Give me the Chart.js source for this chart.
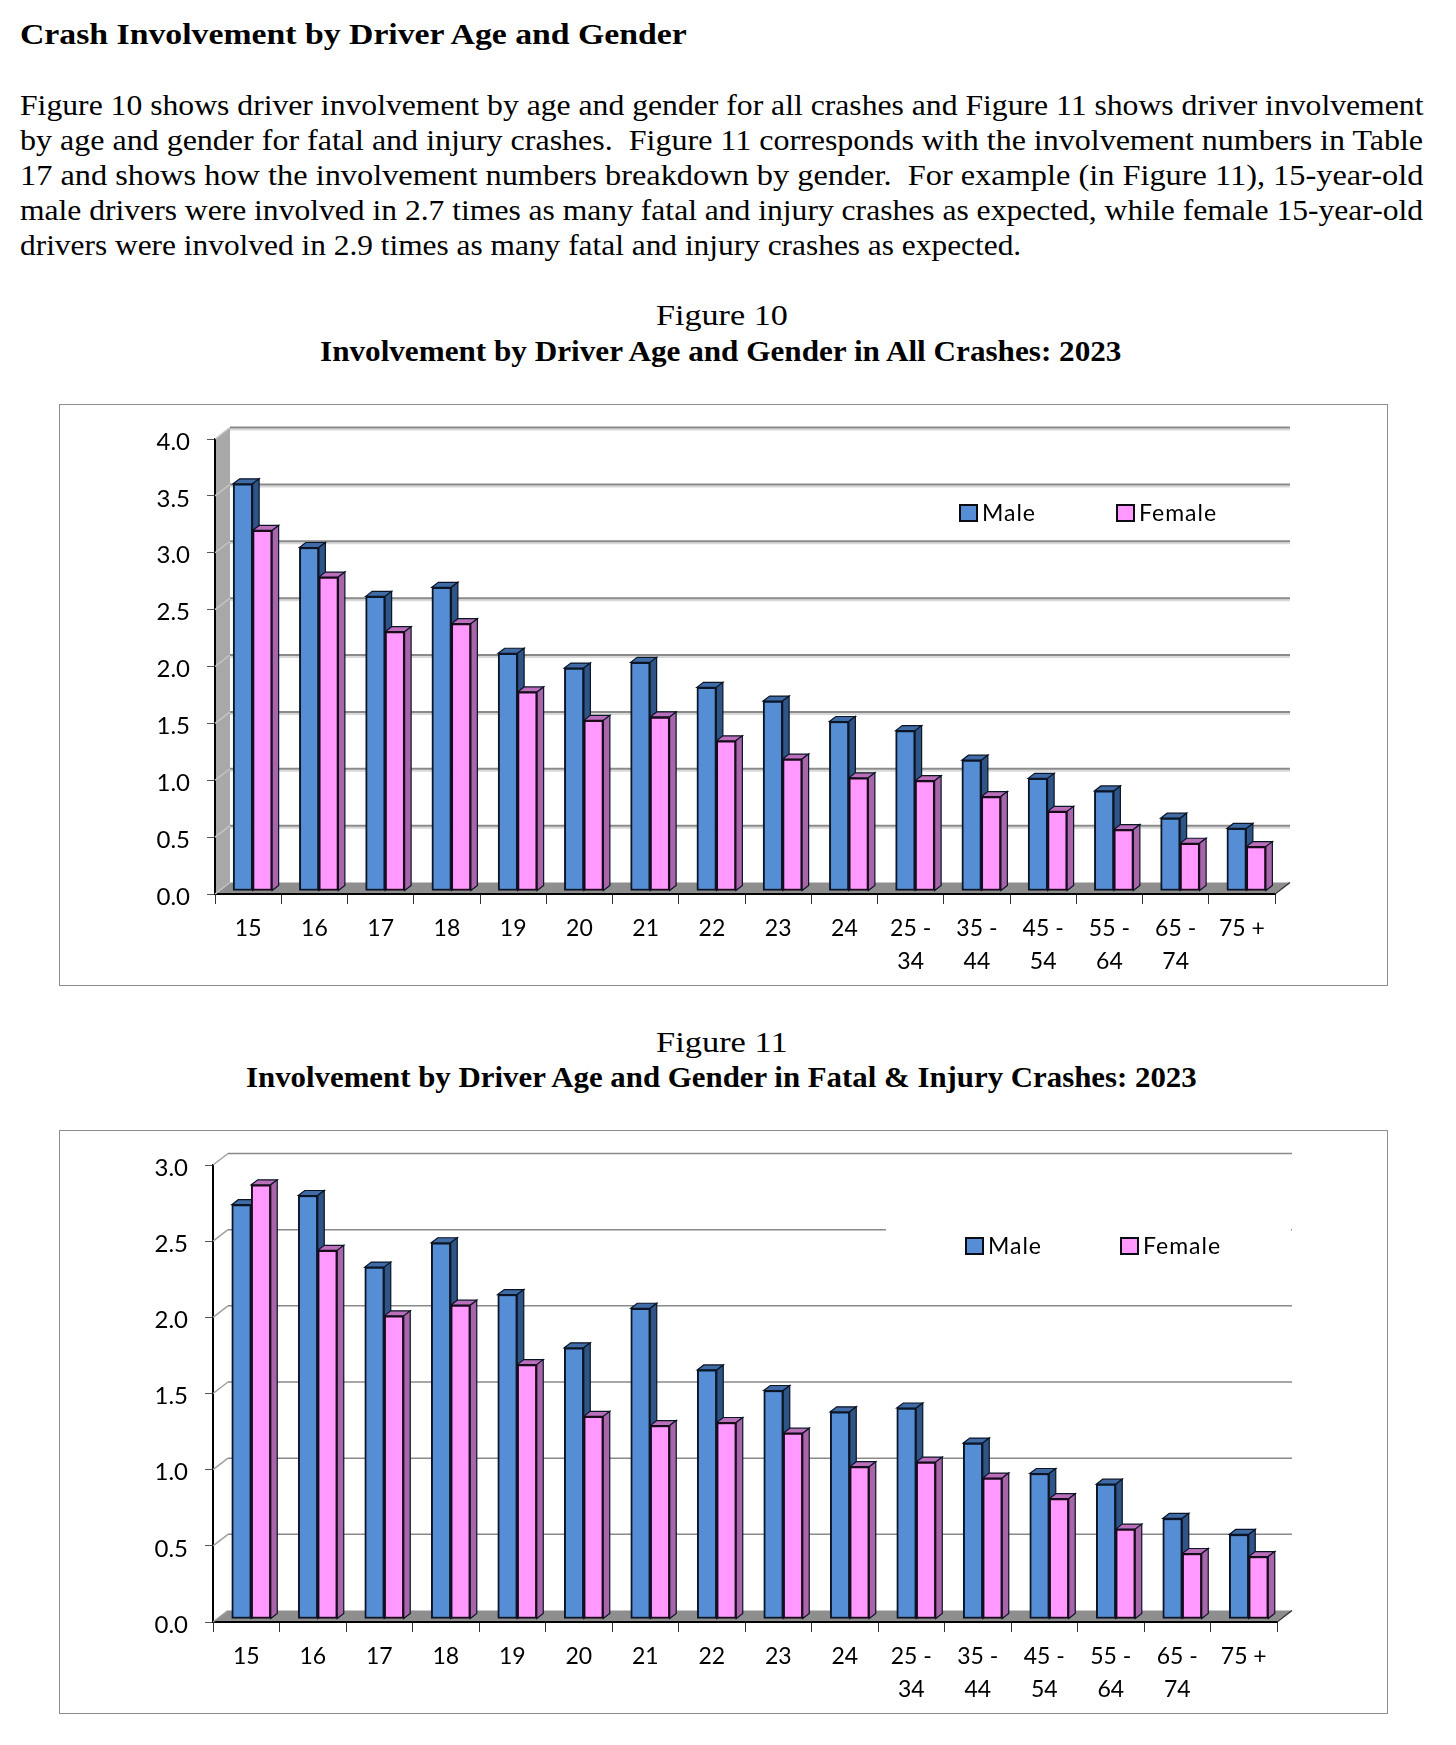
<!DOCTYPE html>
<html>
<head>
<meta charset="utf-8">
<title>Crash Involvement by Driver Age and Gender</title>
<script src="https://cdn.jsdelivr.net/npm/chart.js@4/dist/chart.umd.min.js"></script>
<style>
html, body { margin: 0; padding: 0; background: #fff; }
body { position: relative; width: 1456px; height: 1745px; overflow: hidden; }
.t { position: absolute; font-family: "Liberation Serif", serif; font-size: 30px; line-height: 34px;
     color: #000; white-space: nowrap; transform-origin: left center; }
.t.b { font-weight: bold; }
canvas { position: absolute; left: 60px; outline: 1.5px solid #8c8c8c; background: #fff; }
</style>
</head>
<body>
<div class="t b" data-x="20" data-w="667" style="top:17px">Crash Involvement by Driver Age and Gender</div>
<div class="t" data-x="20" data-w="1403" style="top:88px">Figure 10 shows driver involvement by age and gender for all crashes and Figure 11 shows driver involvement</div>
<div class="t" data-x="20" data-w="1403" style="top:123px">by age and gender for fatal and injury crashes.&nbsp; Figure 11 corresponds with the involvement numbers in Table</div>
<div class="t" data-x="20" data-w="1403" style="top:158px">17 and shows how the involvement numbers breakdown by gender.&nbsp; For example (in Figure 11), 15-year-old</div>
<div class="t" data-x="20" data-w="1403" style="top:193px">male drivers were involved in 2.7 times as many fatal and injury crashes as expected, while female 15-year-old</div>
<div class="t" data-x="20" data-w="1001" style="top:228px">drivers were involved in 2.9 times as many fatal and injury crashes as expected.</div>
<div class="t" data-x="656" data-w="132" style="top:298px">Figure 10</div>
<div class="t b" data-x="320" data-w="801" style="top:334px">Involvement by Driver Age and Gender in All Crashes: 2023</div>
<div class="t" data-x="656" data-w="132" style="top:1025px">Figure 11</div>
<div class="t b" data-x="246" data-w="951" style="top:1060px">Involvement by Driver Age and Gender in Fatal &amp; Injury Crashes: 2023</div>

<canvas id="fig10" width="1327" height="580" style="top:405px"></canvas>
<canvas id="fig11" width="1327" height="582" style="top:1131px"></canvas>

<script>
var ages = ['15','16','17','18','19','20','21','22','23','24',['25 -','34'],['35 -','44'],['45 -','54'],['55 -','64'],['65 -','74'],'75 +'];

var male10   = [3.58,3.02,2.59,2.67,2.09,1.96,2.01,1.79,1.67,1.49,1.41,1.15,0.99,0.88,0.64,0.55];
var female10 = [3.17,2.76,2.28,2.35,1.75,1.50,1.53,1.32,1.16,0.995,0.97,0.83,0.70,0.54,0.42,0.39];

var male11   = [2.72,2.78,2.31,2.47,2.13,1.78,2.04,1.635,1.50,1.36,1.385,1.155,0.955,0.885,0.66,0.555];
var female11 = [2.85,2.42,1.99,2.06,1.67,1.33,1.27,1.29,1.22,1.00,1.03,0.925,0.79,0.59,0.43,0.41];

var maleFront = '#558ed5', maleTop = '#3f6ca6', maleSide = '#2f5486';
var femaleFront = '#ff99ff', femaleTop = '#bb6fbb', femaleSide = '#a965a9';

// stretch each line of the page text to the width it has in the document
document.querySelectorAll('.t').forEach(function(el) {
	el.style.left = el.dataset.x + 'px';
	el.style.transform = 'scaleX(' + (el.dataset.w / el.offsetWidth) + ')';
});

// top and side faces of every bar of one dataset
function drawDepth(chart, index, o) {
	var ds = chart.data.datasets[index];
	var ctx = chart.ctx;
	ctx.lineWidth = 1.2;
	ctx.strokeStyle = '#0b1526';
	chart.getDatasetMeta(index).data.forEach(function(bar) {
		var l = bar.x - bar.width / 2, r = bar.x + bar.width / 2;
		ctx.fillStyle = ds.topColor;
		ctx.beginPath();
		ctx.moveTo(l, bar.y);
		ctx.lineTo(l + o.depthX, bar.y + o.depthY);
		ctx.lineTo(r + o.depthX, bar.y + o.depthY);
		ctx.lineTo(r, bar.y);
		ctx.closePath();
		ctx.fill();
		ctx.stroke();
		ctx.fillStyle = ds.sideColor;
		ctx.beginPath();
		ctx.moveTo(r, bar.y);
		ctx.lineTo(r + o.depthX, bar.y + o.depthY);
		ctx.lineTo(r + o.depthX, bar.base + o.depthY);
		ctx.lineTo(r, bar.base);
		ctx.closePath();
		ctx.fill();
		ctx.stroke();
	});
}

// the fake 3D: side wall, floor, back grid lines, and the faces behind each bar
var box3d = {
	id: 'box3d',
	beforeDatasetsDraw: function(chart) {
		var o = chart.options.plugins.box3d;
		var ctx = chart.ctx, a = chart.chartArea, y = chart.scales.y;
		ctx.save();
		if (o.wall) {
			ctx.fillStyle = o.wall;
			ctx.beginPath();
			ctx.moveTo(a.left + 1, y.getPixelForValue(y.max));
			ctx.lineTo(a.left + o.dx, y.getPixelForValue(y.max) + o.dy);
			ctx.lineTo(a.left + o.dx, a.bottom + o.dy);
			ctx.lineTo(a.left + 1, a.bottom);
			ctx.closePath();
			ctx.fill();
		}
		ctx.fillStyle = '#8e8e8e';
		ctx.beginPath();
		ctx.moveTo(a.left + 1, a.bottom - 1);
		ctx.lineTo(a.left + o.dx, a.bottom + o.dy);
		ctx.lineTo(a.right + o.dx, a.bottom + o.dy);
		ctx.lineTo(a.right, a.bottom - 1);
		ctx.closePath();
		ctx.fill();

		y.ticks.forEach(function(t) {
			var py = y.getPixelForValue(t.value);
			ctx.lineWidth = 1.5;
			ctx.strokeStyle = o.diag;
			ctx.beginPath();
			ctx.moveTo(a.left, py);
			ctx.lineTo(a.left + o.dx, py + o.dy);
			ctx.stroke();
			if (t.value === 0) return;
			if (o.gridShadow) {
				ctx.lineWidth = 2;
				ctx.strokeStyle = o.gridShadow;
				ctx.beginPath();
				ctx.moveTo(a.left + o.dx, py + o.dy + 2);
				ctx.lineTo(a.right + o.dx, py + o.dy + 2);
				ctx.stroke();
			}
			ctx.lineWidth = o.gridWidth;
			ctx.strokeStyle = '#8a8a8a';
			ctx.beginPath();
			ctx.moveTo(a.left + o.dx, py + o.dy);
			ctx.lineTo(a.right + o.dx, py + o.dy);
			ctx.stroke();
		});

		ctx.lineWidth = 1.5;
		ctx.strokeStyle = '#333';
		ctx.beginPath();
		ctx.moveTo(a.right, a.bottom);
		ctx.lineTo(a.right + o.dx, a.bottom + o.dy);
		ctx.stroke();

		// Figure 11: the legend sits on a white box that hides a piece of one grid line
		if (o.mask) {
			ctx.fillStyle = '#fff';
			ctx.fillRect(o.mask[0], o.mask[1], o.mask[2], o.mask[3]);
		}

		// male faces first so the female fronts cover them
		ctx.translate(o.shiftX, o.shiftY);
		drawDepth(chart, 0, o);
		drawDepth(chart, 1, o);
		ctx.restore();
	},
	beforeDatasetDraw: function(chart) {
		var o = chart.options.plugins.box3d;
		chart.ctx.save();
		chart.ctx.translate(o.shiftX, o.shiftY);
	},
	afterDatasetDraw: function(chart) {
		chart.ctx.restore();
	}
};

// legend placed inside the plot, the built in one can not sit at an arbitrary spot
var boxLegend = {
	id: 'boxLegend',
	afterDraw: function(chart) {
		var o = chart.options.plugins.boxLegend;
		var ctx = chart.ctx;
		ctx.save();
		ctx.font = '23px Lato';
		ctx.letterSpacing = '1px';
		ctx.textBaseline = 'middle';
		ctx.textAlign = 'left';
		chart.data.datasets.forEach(function(ds, i) {
			ctx.fillStyle = ds.backgroundColor;
			ctx.fillRect(o.x[i], o.y - 8, 17, 16);
			ctx.lineWidth = 2;
			ctx.strokeStyle = '#0b0b14';
			ctx.strokeRect(o.x[i], o.y - 8, 17, 16);
			ctx.fillStyle = '#000';
			ctx.fillText(ds.label, o.x[i] + 22, o.y + 1);
		});
		ctx.restore();
	}
};

function makeChart(id, male, female, yMax, geo) {
	new Chart(document.getElementById(id), {
		type: 'bar',
		data: {
			labels: ages,
			datasets: [
				{ label: 'Male', data: male, backgroundColor: maleFront, topColor: maleTop, sideColor: maleSide,
				  borderColor: '#0b1526', borderWidth: 2, borderSkipped: false, barThickness: 19.5 },
				{ label: 'Female', data: female, backgroundColor: femaleFront, topColor: femaleTop, sideColor: femaleSide,
				  borderColor: '#1a0a1a', borderWidth: 2, borderSkipped: false, barThickness: 19.5 }
			]
		},
		options: {
			responsive: false,
			animation: false,
			layout: { padding: { top: geo.top, right: geo.right, left: 0, bottom: 0 } },
			scales: {
				x: {
					afterFit: function(s) { s.height = geo.xHeight; },
					grid: { drawOnChartArea: false, tickLength: 10, tickColor: '#333', offset: true },
					border: { color: '#000', width: 2 },
					ticks: { color: '#000', autoSkip: false, maxRotation: 0, padding: 8,
						font: { family: 'Lato', size: 23, lineHeight: 1.45 } }
				},
				y: {
					min: 0,
					max: yMax,
					afterFit: function(s) { s.width = geo.left; },
					grid: { drawOnChartArea: false, tickLength: 8, tickColor: '#555' },
					border: { color: '#000', width: 2 },
					ticks: { color: '#000', stepSize: 0.5, padding: 17, labelOffset: 3,
						font: { family: 'Lato', size: 24 },
						callback: function(v) { return v.toFixed(1); } }
				}
			},
			plugins: {
				legend: { display: false },
				tooltip: { enabled: false },
				box3d: geo.box,
				boxLegend: geo.legend
			}
		},
		plugins: [box3d, boxLegend]
	});
}

makeChart('fig10', male10, female10, 4, {
	left: 155, right: 112, top: 34, xHeight: 91,
	box: { dx: 15, dy: -11.5, shiftX: 4.5, shiftY: -3, depthX: 6.5, depthY: -5, wall: '#a8a8a8', diag: '#c4c4c4', gridWidth: 2, gridShadow: '#d9d9d9' },
	legend: { x: [900, 1057], y: 108 }
});

makeChart('fig11', male11, female11, 3, {
	left: 153, right: 110, top: 34, xHeight: 91,
	box: { dx: 15, dy: -11.5, shiftX: 5, shiftY: -3, depthX: 6.5, depthY: -5, wall: null, diag: '#a0a0a0', gridWidth: 1.5, gridShadow: null, mask: [826, 92, 405, 50] },
	legend: { x: [906, 1061], y: 115 }
});
</script>
</body>
</html>
